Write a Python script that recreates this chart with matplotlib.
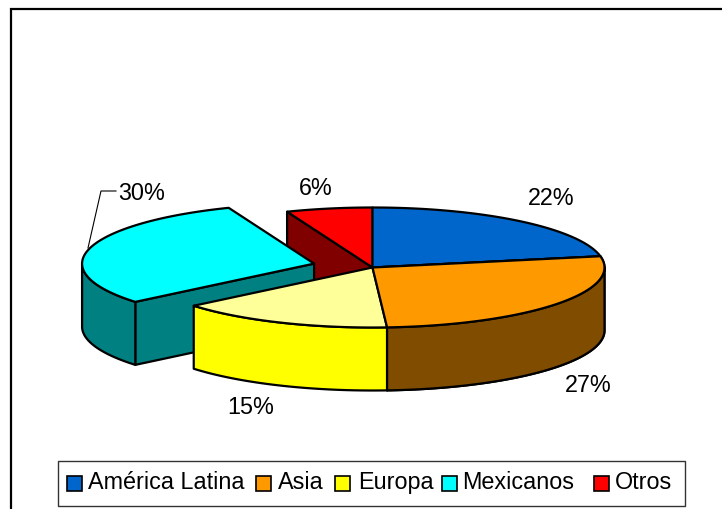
import numpy as np
import matplotlib
matplotlib.use("Agg")
import matplotlib.pyplot as plt
from matplotlib.patches import Polygon, Rectangle

plt.rcParams["font.family"] = ["Liberation Sans", "DejaVu Sans"]

labels = ["América Latina", "Asia", "Europa", "Mexicanos", "Otros"]
shares = [22, 27, 15, 30, 6]
explode = [0, 0, 0, 0.26, 0]

top_colors = ["#0066CC", "#FF9900", "#FFFF99", "#00FFFF", "#FF0000"]
side_colors = ["#003366", "#804C00", "#FFFF00", "#008080", "#800000"]
legend_colors = ["#0066CC", "#FF9900", "#FFFF00", "#00FFFF", "#FF0000"]

# layout in image pixels
CX, CY = 372.5, 268.5
RX, RY = 232, 60
DEPTH = 63
LW = 1.6
FS = 16.8

pct_pos = [(551, 199), (588, 386), (251, 408), (142, 194), (316, 189)]
legend_x = [67, 256, 335, 442, 594]
legend_text_x = [88, 278, 358, 462, 615]


def rim(a0, a1, center):
    t = np.radians(np.linspace(a0, a1, 80))
    return np.column_stack([center[0] + RX * np.sin(t), center[1] - RY * np.cos(t)])


def draw_wedge(ax, i, a0, a1):
    mid = np.radians((a0 + a1) / 2)
    c = (CX + explode[i] * RX * np.sin(mid), CY - explode[i] * RY * np.cos(mid))
    arc = rim(a0, a1, c)
    down = np.array([0, DEPTH])
    style = dict(edgecolor="black", linewidth=LW, joinstyle="round")

    # walls of the cut, only seen when the slice is pulled out or lies behind
    if explode[i] > 0 or a1 == 360:
        wall = np.array([arc[0], c, np.array(c) + down, arc[0] + down])
        ax.add_patch(Polygon(wall, facecolor=side_colors[i], **style))

    # outer wall, front half only
    s0, s1 = max(a0, 90), min(a1, 270)
    if s0 < s1:
        outer = rim(s0, s1, c)
        wall = np.vstack([outer, (outer + down)[::-1]])
        ax.add_patch(Polygon(wall, facecolor=side_colors[i], **style))

    ax.add_patch(Polygon(np.vstack([[c], arc]), facecolor=top_colors[i], **style))


fig = plt.figure(figsize=(7.22, 5.10), dpi=100)
ax = fig.add_axes([0, 0, 1, 1])
ax.set_xlim(0, 722)
ax.set_ylim(510, 0)
ax.axis("off")

# chart frame, only top and left show
ax.plot([11, 11, 722], [510, 9.5, 9.5], color="black", lw=1.6, solid_joinstyle="miter")

edges = np.cumsum([0] + shares) / sum(shares) * 360
# back to front
for i in [4, 3, 0, 1, 2]:
    draw_wedge(ax, i, edges[i], edges[i + 1])
# Asia top sits over the Europa wall corner
draw_wedge(ax, 1, edges[1], edges[2])

for i, share in enumerate(shares):
    ax.text(pct_pos[i][0], pct_pos[i][1], f"{share}%", fontsize=FS,
            ha="center", va="center", color="black")

# leader line for the 30% label
ax.plot([116, 101, 88], [192, 192, 249], color="black", lw=0.8)

# legend
ax.add_patch(Rectangle((58, 462), 627, 45, facecolor="white", edgecolor="#333333", linewidth=1.0))
for i, name in enumerate(labels):
    ax.add_patch(Rectangle((legend_x[i], 477), 15, 15, facecolor=legend_colors[i],
                           edgecolor="black", linewidth=1.2))
    ax.text(legend_text_x[i], 483, name, fontsize=FS, ha="left", va="center", color="black")

fig.savefig("out.png", dpi=100)
